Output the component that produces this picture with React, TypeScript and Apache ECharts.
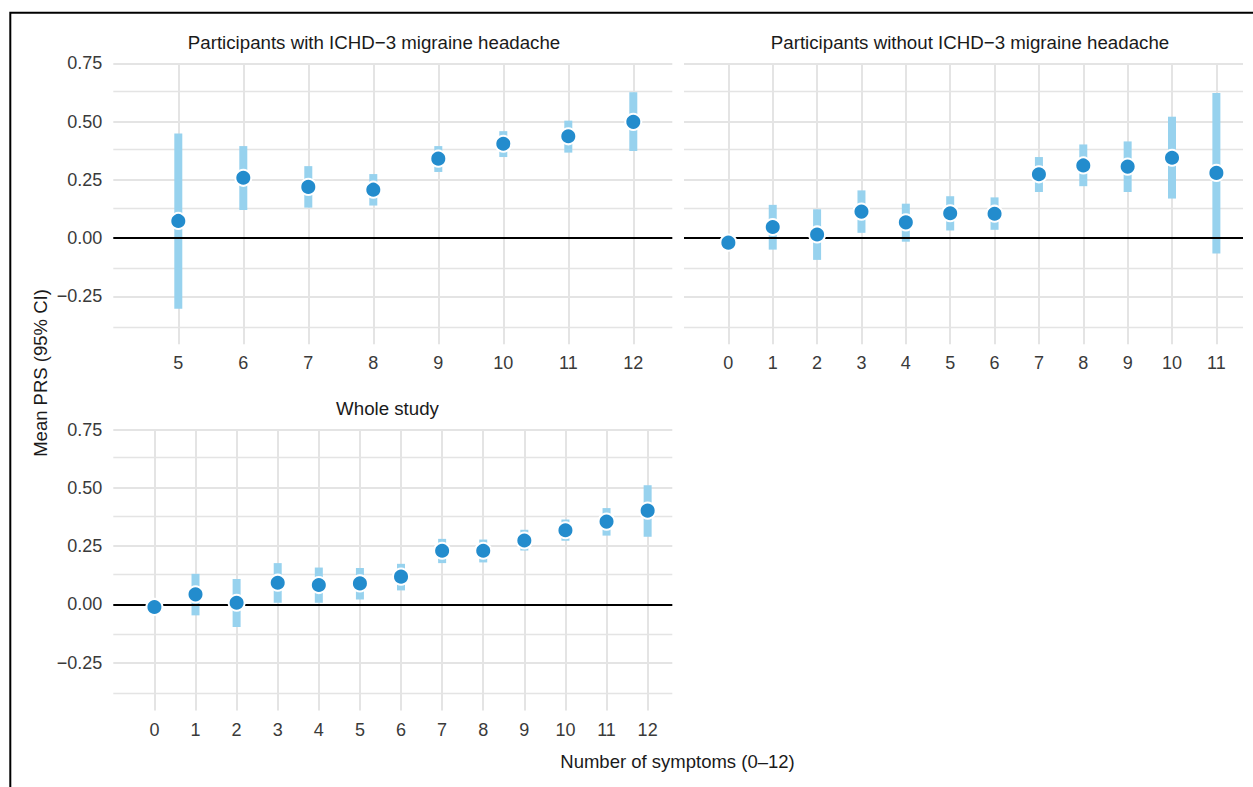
import React, { useEffect, useRef } from "react";
import * as echarts from "echarts";

// ---- data ----
const withX = [5, 6, 7, 8, 9, 10, 11, 12];
const withMean = [0.074, 0.259, 0.22, 0.208, 0.341, 0.405, 0.437, 0.499];
const withLo = [-0.303, 0.121, 0.131, 0.14, 0.284, 0.348, 0.367, 0.374];
const withHi = [0.449, 0.395, 0.309, 0.275, 0.395, 0.459, 0.504, 0.626];

const withoutX = [0, 1, 2, 3, 4, 5, 6, 7, 8, 9, 10, 11];
const withoutMean = [-0.019, 0.048, 0.016, 0.114, 0.068, 0.107, 0.105, 0.274, 0.312, 0.307, 0.345, 0.28];
const withoutLo = [-0.035, -0.049, -0.093, 0.023, -0.015, 0.033, 0.036, 0.198, 0.223, 0.198, 0.17, -0.066];
const withoutHi = [-0.003, 0.143, 0.124, 0.205, 0.148, 0.18, 0.175, 0.348, 0.402, 0.415, 0.521, 0.623];

const wholeX = [0, 1, 2, 3, 4, 5, 6, 7, 8, 9, 10, 11, 12];
const wholeMean = [-0.011, 0.043, 0.007, 0.093, 0.083, 0.09, 0.119, 0.23, 0.23, 0.274, 0.318, 0.355, 0.402];
const wholeLo = [-0.02, -0.047, -0.097, 0.007, 0.007, 0.021, 0.06, 0.177, 0.18, 0.231, 0.273, 0.295, 0.29];
const wholeHi = [-0.002, 0.131, 0.109, 0.177, 0.158, 0.156, 0.174, 0.281, 0.278, 0.32, 0.364, 0.413, 0.511];

const panelTitles = [
  "Participants with ICHD\u22123 migraine headache",
  "Participants without ICHD\u22123 migraine headache",
  "Whole study",
];
const yTickLabels = [-0.25, 0, 0.25, 0.5, 0.75];
const yMajorGrid = [-0.25, 0, 0.25, 0.5, 0.75];
const yMinorGrid = [-0.375, -0.125, 0.125, 0.375, 0.625];
const xAxisTitle = "Number of symptoms (0\u201312)";
const yAxisTitle = "Mean PRS (95% CI)";

const FONT = "'Liberation Sans', Arial, Helvetica, sans-serif";
const GRID_COLOR = "#E4E4E4";
const CI_COLOR = "#97D2EE";
const PT_COLOR = "#238CCD";

export default function App() {
  const ref = useRef<HTMLDivElement>(null);
  useEffect(() => {
    if (!ref.current) return;
    const chart = echarts.init(ref.current, null, { renderer: "svg" });

    const panels = [
      { x: withX, mean: withMean, lo: withLo, hi: withHi, xmin: 4, xmax: 12.6, left: 113.3, top: 63.3, yLabels: true },
      { x: withoutX, mean: withoutMean, lo: withoutLo, hi: withoutHi, xmin: -1, xmax: 11.6, left: 684, top: 63.3, yLabels: false },
      { x: wholeX, mean: wholeMean, lo: wholeLo, hi: wholeHi, xmin: -1, xmax: 12.6, left: 113.3, top: 429.5, yLabels: true },
    ];

    const grids: any[] = [];
    const xAxes: any[] = [];
    const yAxes: any[] = [];
    const series: any[] = [];

    panels.forEach((p, i) => {
      grids.push({
        left: p.left,
        top: p.top,
        width: 559,
        height: 281,
        containLabel: false,
        outerBoundsMode: "none",
      });
      xAxes.push({
        type: "value",
        gridIndex: i,
        min: p.xmin,
        max: p.xmax,
        axisLine: { show: false },
        axisTick: { show: false },
        splitLine: { show: false },
        axisLabel: {
          customValues: p.x,
          formatter: (v: number) => String(Math.round(v)),
          fontSize: 18,
          fontFamily: FONT,
          color: "#3a3a3a",
          margin: 10,
        },
      });
      yAxes.push({
        type: "value",
        gridIndex: i,
        min: -0.455,
        max: 0.75,
        axisLine: { show: false },
        axisTick: { show: false },
        splitLine: { show: false },
        axisLabel: {
          show: p.yLabels,
          customValues: yTickLabels,
          formatter: (v: number) => (v < 0 ? "\u2212" + Math.abs(v).toFixed(2) : v.toFixed(2)),
          fontSize: 18,
          fontFamily: FONT,
          color: "#3a3a3a",
          margin: 11,
        },
      });

      const gridLines: any[] = [];
      yMinorGrid.forEach((v) => gridLines.push({ yAxis: v, lineStyle: { color: GRID_COLOR, width: 1.3, type: "solid" } }));
      yMajorGrid.forEach((v) => gridLines.push({ yAxis: v, lineStyle: { color: GRID_COLOR, width: 2, type: "solid" } }));
      p.x.forEach((v) => gridLines.push({ xAxis: v, lineStyle: { color: GRID_COLOR, width: 2, type: "solid" } }));

      series.push({
        type: "custom",
        xAxisIndex: i,
        yAxisIndex: i,
        z: 2,
        silent: true,
        encode: { x: 0, y: [1, 2] },
        data: p.x.map((x, k) => [x, p.lo[k], p.hi[k]]),
        renderItem: (params: any, api: any) => {
          const x = api.value(0);
          const top = api.coord([x, api.value(2)]);
          const bot = api.coord([x, api.value(1)]);
          return {
            type: "rect",
            shape: { x: top[0] - 4, y: top[1], width: 8, height: bot[1] - top[1] },
            style: { fill: CI_COLOR },
          };
        },
        markLine: {
          silent: true,
          z: 1,
          symbol: ["none", "none"],
          label: { show: false },
          data: gridLines,
        },
      });

      series.push({
        type: "scatter",
        xAxisIndex: i,
        yAxisIndex: i,
        z: 4,
        silent: true,
        symbol: "circle",
        symbolSize: 16,
        itemStyle: { color: PT_COLOR, borderColor: "#ffffff", borderWidth: 2, opacity: 1 },
        data: p.x.map((x, k) => [x, p.mean[k]]),
        markLine: {
          silent: true,
          z: 3,
          symbol: ["none", "none"],
          label: { show: false },
          lineStyle: { color: "#000000", width: 2, type: "solid" },
          data: [{ yAxis: 0 }],
        },
      });
    });

    const titleStyle = (text: string, x: number, y: number) => ({
      type: "text",
      x,
      y,
      silent: true,
      style: {
        text,
        fontSize: 18.7,
        fontFamily: FONT,
        fill: "#1a1a1a",
        align: "center",
        verticalAlign: "middle",
      },
    });

    chart.setOption({
      animation: false,
      backgroundColor: "#ffffff",
      grid: grids,
      xAxis: xAxes,
      yAxis: yAxes,
      series,
      graphic: [
        {
          type: "rect",
          silent: true,
          shape: { x: 10.3, y: 12.7, width: 3000, height: 3000 },
          style: { fill: "none", stroke: "#000000", lineWidth: 2 },
        },
        titleStyle(panelTitles[0], 374, 42.5),
        titleStyle(panelTitles[1], 970, 42.5),
        titleStyle(panelTitles[2], 387.5, 408.5),
        {
          type: "text",
          x: 677.5,
          y: 761.7,
          silent: true,
          style: {
            text: xAxisTitle,
            fontSize: 18.5,
            fontFamily: FONT,
            fill: "#1a1a1a",
            align: "center",
            verticalAlign: "middle",
          },
        },
        {
          type: "text",
          x: 40,
          y: 373,
          rotation: Math.PI / 2,
          silent: true,
          style: {
            text: yAxisTitle,
            fontSize: 18.5,
            fontFamily: FONT,
            fill: "#1a1a1a",
            align: "center",
            verticalAlign: "middle",
          },
        },
      ],
    });

    return () => chart.dispose();
  }, []);

  return (
    <div
      ref={ref}
      style={{ position: "fixed", left: 0, top: 0, width: 1253, height: 787, background: "#fff" }}
    />
  );
}
